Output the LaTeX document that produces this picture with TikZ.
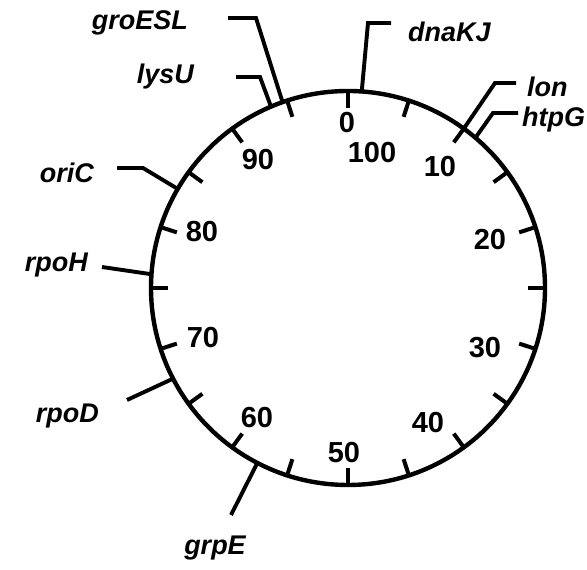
\documentclass[tikz,border=0pt]{standalone}
\usepackage{fontspec}
\setmainfont{Liberation Sans}
\usetikzlibrary{calc,positioning}
\definecolor{ink}{HTML}{000000}
\tikzset{
  ring/.style={draw=ink, line width=4.4pt},
  tickmark/.style={draw=ink, line width=4pt},
  leader/.style={draw=ink, line width=3.9pt, line join=miter},
  gene/.style={text=ink, inner sep=0pt, font=\fontsize{27}{27}\selectfont\bfseries\itshape},
  num/.style={text=ink, inner sep=0pt, font=\fontsize{29}{29}\selectfont\bfseries}
}

\begin{document}
\begin{tikzpicture}[x=1pt,y=1pt]
        \path[fill=white] (0,0) rectangle (587,570);
        \useasboundingbox (0,0) rectangle (587,570);
        \coordinate (ctr) at (348,282);

        % chromosome ring with a tick every 5 units
        \draw[ring] (ctr) circle (197);
        \foreach \u in {0,5,...,95}
          \draw[tickmark] ([shift={(90-3.6*\u:197)}]ctr) -- ([shift={(90-3.6*\u:180)}]ctr);

        % map units
        \foreach \n/\x/\y in {0/347/447, 100/372/417, 10/440/403, 20/490/330, 30/485/222,
                              40/428/147, 50/344/117, 60/257/152, 70/203/232, 80/202/338, 90/258/410}
          \node[num] (u\n) at (\x,\y) {\n};

        % genes
        \coordinate (dnaKJ-c) at ([shift={(86:197)}]ctr);
        \coordinate (dnaKJ-b) at (368,547);
        \coordinate (dnaKJ-e) at (391,547);
        \node[gene,anchor=west] (dnaKJ) at (408,538) {dnaKJ};
        \draw[leader] (dnaKJ-c) -- (dnaKJ-b) -- (dnaKJ-e);

        \coordinate (lon-c) at ([shift={(54:197)}]ctr);
        \coordinate (lon-b) at (495,487);
        \coordinate (lon-e) at (516,487);
        \node[gene,anchor=west] (lon) at (527,483) {lon};
        \draw[leader] (lon-c) -- (lon-b) -- (lon-e);

        \coordinate (htpG-c) at ([shift={(49.7:197)}]ctr);
        \coordinate (htpG-b) at (493,457);
        \coordinate (htpG-e) at (518,457);
        \node[gene,anchor=west] (htpG) at (522,450) {htpG};
        \draw[leader] (htpG-c) -- (htpG-b) -- (htpG-e);

        \coordinate (groESL-c) at ([shift={(109.4:197)}]ctr);
        \coordinate (groESL-b) at (256,552);
        \coordinate (groESL-e) at (228,552);
        \node[gene,anchor=east] (groESL) at (188,547) {groESL};
        \draw[leader] (groESL-c) -- (groESL-b) -- (groESL-e);

        \coordinate (lysU-c) at ([shift={(113:197)}]ctr);
        \coordinate (lysU-b) at (260,493);
        \coordinate (lysU-e) at (236,493);
        \node[gene,anchor=east] (lysU) at (194,493) {lysU};
        \draw[leader] (lysU-c) -- (lysU-b) -- (lysU-e);

        \coordinate (oriC-c) at ([shift={(149.8:197)}]ctr);
        \coordinate (oriC-b) at (143,402);
        \coordinate (oriC-e) at (117,402);
        \node[gene,anchor=east] (oriC) at (94,397) {oriC};
        \draw[leader] (oriC-c) -- (oriC-b) -- (oriC-e);

        \coordinate (rpoH-c) at ([shift={(176:197)}]ctr);
        \coordinate (rpoH-e) at (102,303);
        \node[gene,anchor=east] (rpoH) at (88,305) {rpoH};
        \draw[leader] (rpoH-c) -- (rpoH-e);

        \coordinate (rpoD-c) at ([shift={(-152.6:197)}]ctr);
        \coordinate (rpoD-e) at (127,170);
        \node[gene,anchor=east] (rpoD) at (99,154) {rpoD};
        \draw[leader] (rpoD-c) -- (rpoD-e);

        \coordinate (grpE-c) at ([shift={(-117.4:197)}]ctr);
        \coordinate (grpE-e) at (231,55);
        \node[gene,anchor=north] (grpE) at (215,34) {grpE};
        \draw[leader] (grpE-c) -- (grpE-e);
\end{tikzpicture}
\end{document}
